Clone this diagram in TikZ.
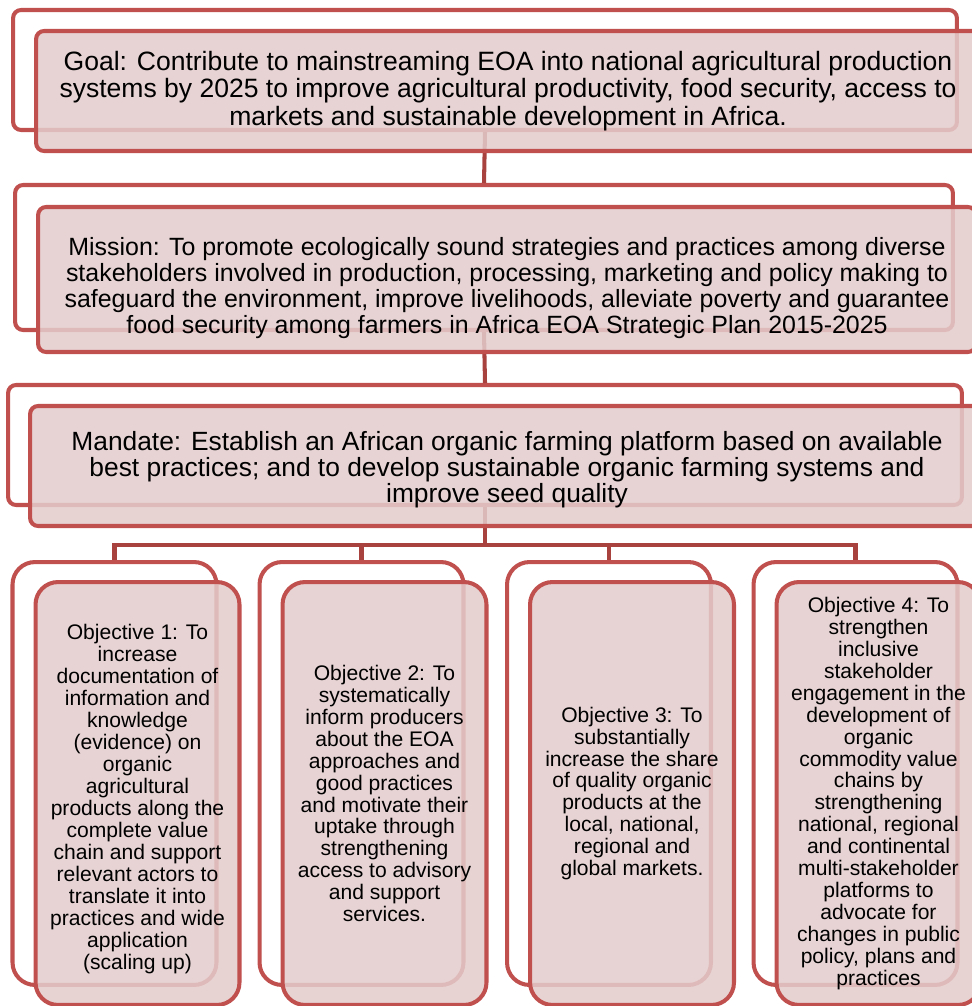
\documentclass[tikz,border=0pt]{standalone}
\usepackage{fontspec}
\setmainfont{Liberation Sans}
\usetikzlibrary{calc}
\definecolor{boxred}{RGB}{192,80,77}
\definecolor{linkred}{RGB}{168,66,63}
\definecolor{boxpink}{RGB}{228,204,204}
\tikzset{
	backbox/.style={draw=boxred, line width=2.3pt, rounded corners=0.16cm, fill=white, inner sep=0pt},
	frontbox/.style={draw=boxred, line width=2.3pt, rounded corners=0.16cm, fill=boxpink, fill opacity=0.86, text opacity=1, align=center, inner sep=0pt, font=\fontsize{15}{14.9}\selectfont},
	objback/.style={backbox, rounded corners=0.45cm, minimum width=4.08cm, minimum height=8.46cm},
	objfront/.style={frontbox, rounded corners=0.45cm, minimum width=4.08cm, minimum height=8.46cm, font=\fontsize{12}{12.5}\selectfont},
	link/.style={draw=linkred, line width=2.3pt}
}

\begin{document}
\begin{tikzpicture}[x=0.02cm, y=-0.02cm]
			%%%%% START %%%%%
			\useasboundingbox (0, 0) rectangle (971, 1006);
			
			% back boxes
			\node[backbox, minimum width=18.88cm, minimum height=2.4cm] (goalback) at (485, 70) {};
			\node[backbox, minimum width=18.76cm, minimum height=2.9cm] (missionback) at (484, 257.5) {};
			\node[backbox, minimum width=19.08cm, minimum height=2.4cm] (mandateback) at (485, 445) {};
			
			\node[objback] (obj1back) at (114.5, 773.5) {};
			\node[objback] (obj2back) at (361.5, 773.5) {};
			\node[objback] (obj3back) at (609, 773.5) {};
			\node[objback] (obj4back) at (855.5, 773.5) {};
			
			% connectors
			\draw[link] (goalback.south) -- (missionback.north);
			\draw[link] (missionback.south) -- (mandateback.north);
			\coordinate (bar) at (485, 545);
			\draw[link] (mandateback.south) -- (bar);
			\draw[link] (obj1back.north) |- (bar) -| (obj4back.north);
			\draw[link] (obj2back.north) -- (obj2back.north |- bar);
			\draw[link] (obj3back.north) -- (obj3back.north |- bar);
			
			% front boxes
			\node[frontbox, minimum width=18.88cm, minimum height=2.4cm, font=\fontsize{15.1}{15.6}\selectfont] (goal) at ($(goalback.center)+(23, 21)$) {Goal: Contribute to mainstreaming EOA into national agricultural production\\systems by 2025 to improve agricultural productivity, food security, access to\\markets and sustainable development in Africa.};
			\node[frontbox, minimum width=18.76cm, minimum height=2.9cm, font=\fontsize{14.2}{14.7}\selectfont] (mission) at ($(missionback.center)+(23, 22)$) {\rule{0pt}{20.2pt}Mission: To promote ecologically sound strategies and practices among diverse\\stakeholders involved in production, processing, marketing and policy making to\\safeguard the environment, improve livelihoods, alleviate poverty and guarantee\\food security among farmers in Africa EOA Strategic Plan 2015-2025};
			\node[frontbox, minimum width=19.08cm, minimum height=2.4cm] (mandate) at ($(mandateback.center)+(22, 21)$) {\rule{0pt}{15.4pt}Mandate: Establish an African organic farming platform based on available\\best practices; and to develop sustainable organic farming systems and\\improve seed quality};
			
			\node[objfront] (obj1) at ($(obj1back.center)+(23, 20)$) {\rule{0pt}{15.1pt}Objective 1: To\\increase\\documentation of\\information and\\knowledge\\(evidence) on\\organic\\agricultural\\products along the\\complete value\\chain and support\\relevant actors to\\translate it into\\practices and wide\\application\\(scaling up)};
			\node[objfront] (obj2) at ($(obj2back.center)+(23, 20)$) {Objective 2: To\\systematically\\inform producers\\about the EOA\\approaches and\\good practices\\and motivate their\\uptake through\\strengthening\\access to advisory\\and support\\services.};
			\node[objfront] (obj3) at ($(obj3back.center)+(23, 20)$) {Objective 3: To\\substantially\\increase the share\\of quality organic\\products at the\\local, national,\\regional and\\global markets.};
			\node[objfront] (obj4) at ($(obj4back.center)+(23, 20)$) {Objective 4: To\\strengthen\\inclusive\\stakeholder\\engagement in the\\development of\\organic\\commodity value\\chains by\\strengthening\\national, regional\\and continental\\multi-stakeholder\\platforms to\\advocate for\\changes in public\\policy, plans and\\practices};
			
			%%%%% END %%%%%
\end{tikzpicture}
\end{document}
